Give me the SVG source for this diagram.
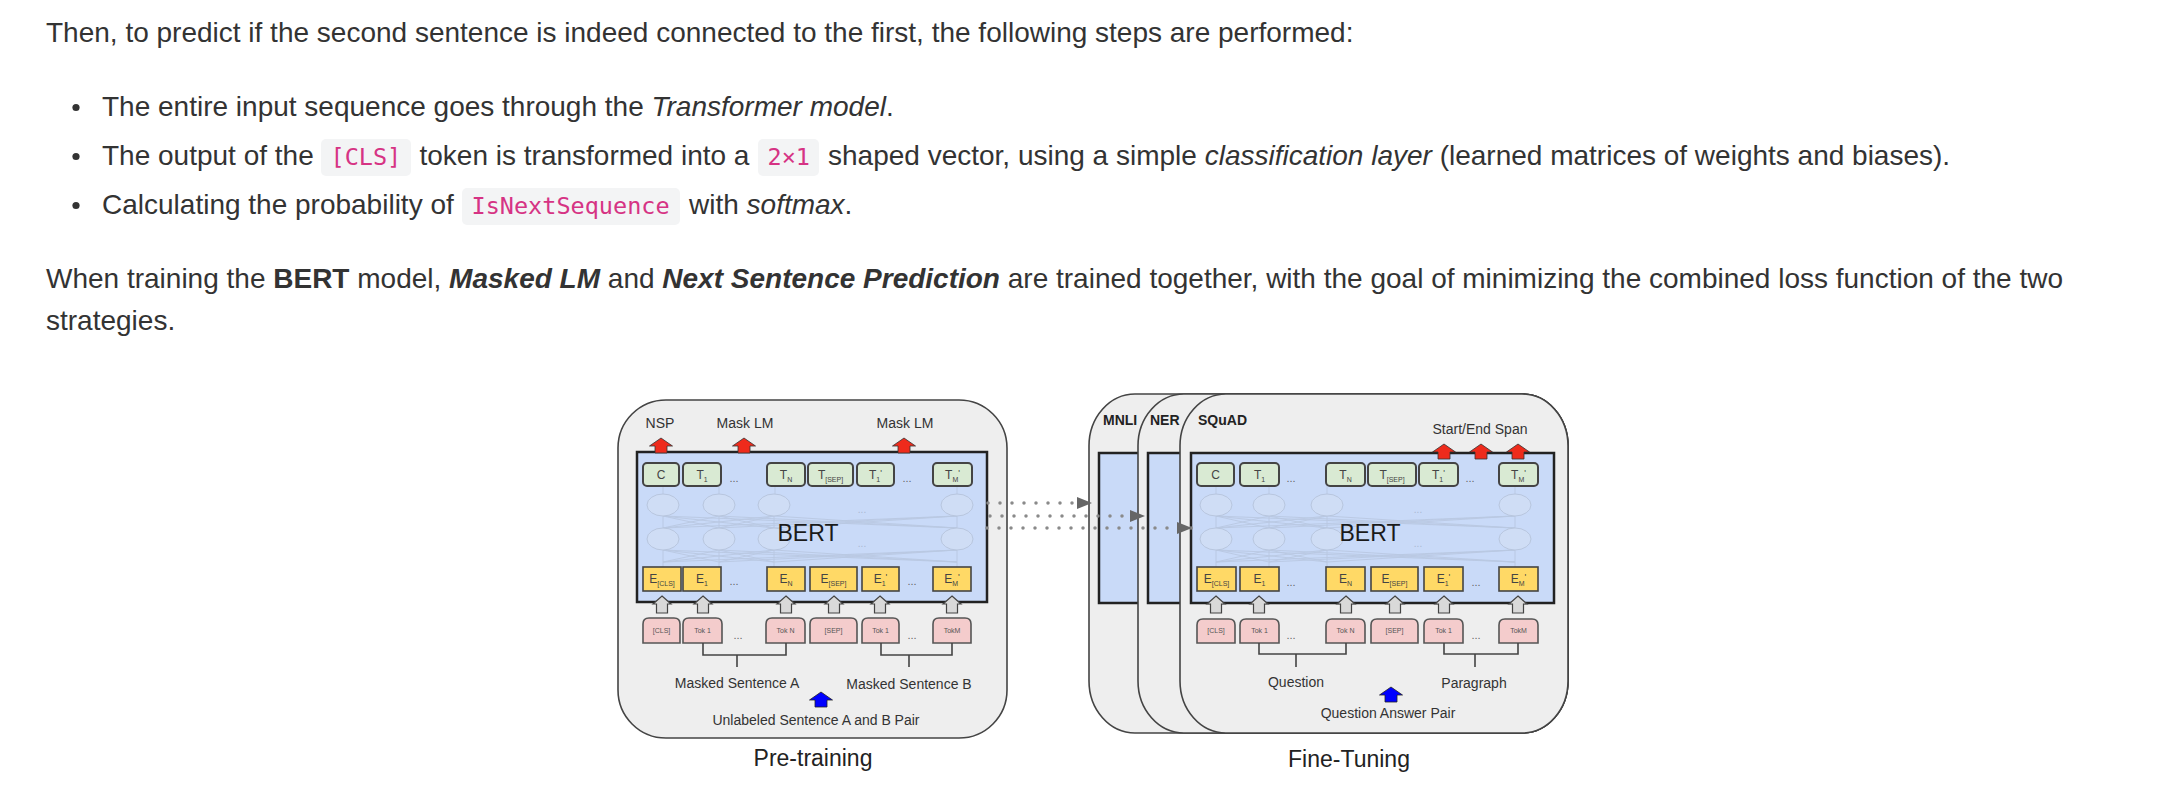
<svg xmlns="http://www.w3.org/2000/svg" width="2174" height="810" viewBox="0 0 2174 810">
<defs>
<style>
.p{font-family:"Liberation Sans",Arial,Helvetica,sans-serif;font-size:28px;fill:#333}
.i{font-style:italic}
.b{font-weight:bold}
.code{font-family:"DejaVu Sans Mono","Liberation Mono",monospace;font-size:23.5px;fill:#d63384}
.cbg{fill:#f3f4f5}
.card{fill:#eeeeee;stroke:#444;stroke-width:1.6}
.bert{fill:#c9daf8;stroke:#222;stroke-width:2.5}
.tbox{fill:#d9ead3;stroke:#444;stroke-width:2}
.ebox{fill:#ffd966;stroke:#444;stroke-width:1.6}
.tok{fill:#f4cccc;stroke:#555;stroke-width:1.6}
.net{stroke:#b6c4dd;stroke-width:0.9;fill:none;opacity:0.8}
.ell{fill:#cfddf5;stroke:#b8c6de;stroke-width:1}
.f{font-family:"Liberation Sans",Arial,Helvetica,sans-serif}
.lbl{font-size:14px;fill:#333;text-anchor:middle}
.bt{font-size:12px;fill:#444;text-anchor:middle}
.sub{font-size:7px}
.pr{font-size:9px}
.tk{font-size:7px;fill:#555;text-anchor:middle}
.dots{font-size:11px;fill:#666;text-anchor:middle}
.fdots{font-size:10px;fill:#a9b8d2;text-anchor:middle}
.title{font-size:23px;fill:#222;text-anchor:middle}
.task{font-size:14px;font-weight:bold;fill:#222}
.red{fill:#ee2b1c;stroke:#333;stroke-width:0.8}
.gray{fill:#d9d9d9;stroke:#444;stroke-width:1.2}
.blue{fill:#0000ff;stroke:#222;stroke-width:0.8}
.brk{fill:none;stroke:#444;stroke-width:1.6}
.dot{stroke:#8a8a8a;stroke-width:3.5;stroke-linecap:round;stroke-dasharray:0 12;fill:none}
</style>
<path id="upR" d="M0,0 L11.5,8 L6,8 L6,15 L-6,15 L-6,8 L-11.5,8 Z"/>
<path id="upG" d="M0,0 L9,8 L5.5,8 L5.5,17 L-5.5,17 L-5.5,8 L-9,8 Z"/>
<marker id="ah" markerWidth="15" markerHeight="12" refX="15" refY="6" orient="auto" markerUnits="userSpaceOnUse">
<path d="M0,0 L15,6 L0,12 Z" fill="#666"/>
</marker>
</defs>
<rect width="2174" height="810" fill="#ffffff"/>

<g id="text-block">
<text class="p" x="46" y="42">Then, to predict if the second sentence is indeed connected to the first, the following steps are performed:</text>
<circle cx="76" cy="107.5" r="3.6" fill="#333"/>
<circle cx="76" cy="156.5" r="3.6" fill="#333"/>
<circle cx="76" cy="205.5" r="3.6" fill="#333"/>
<text class="p" y="116"><tspan x="102">The entire input sequence goes through the </tspan><tspan class="i">Transformer model</tspan>.</text>
<rect class="cbg" x="321" y="139" width="90" height="37" rx="5"/>
<rect class="cbg" x="758" y="139" width="61" height="37" rx="5"/>
<text class="code" x="330.5" y="165">[CLS]</text>
<text class="code" x="767.5" y="165">2×1</text>
<text class="p" y="165"><tspan x="102">The output of the</tspan><tspan x="419.5">token is transformed into a</tspan><tspan x="828">shaped vector, using a simple </tspan><tspan class="i">classification layer</tspan> (learned matrices of weights and biases).</text>
<rect class="cbg" x="462" y="188" width="218" height="37" rx="5"/>
<text class="code" x="471.5" y="214">IsNextSequence</text>
<text class="p" y="214"><tspan x="102">Calculating the probability of</tspan><tspan x="689">with </tspan><tspan class="i">softmax</tspan>.</text>
<text class="p" x="46" y="288">When training the <tspan class="b">BERT</tspan> model, <tspan class="b i">Masked LM</tspan> and <tspan class="b i">Next Sentence Prediction</tspan> are trained together, with the goal of minimizing the combined loss function of the two</text>
<text class="p" x="46" y="330">strategies.</text>
</g>

<g id="pretraining">
<rect class="card" x="618" y="400" width="389" height="338" rx="48"/>
<rect class="bert" x="637" y="452" width="350" height="150"/>
<g class="net">
<path d="M663,486V494 M719,486V494 M775,486V494 M957,486V494 M663,516V528 M719,516V528 M774,516V528 M957,516V528 M663,550V567 M719,550V567 M774,550V567 M957,550V567"/>
<path d="M663,516L719,528 M663,516L774,528 M663,516L957,528 M719,516L663,528 M719,516L774,528 M719,516L957,528 M774,516L663,528 M774,516L719,528 M774,516L957,528 M957,516L663,528 M957,516L719,528 M957,516L774,528"/>
<path d="M663,550L719,562 M663,550L774,562 M663,550L957,562 M719,550L663,562 M719,550L774,562 M719,550L957,562 M774,550L663,562 M774,550L719,562 M774,550L957,562 M957,550L663,562 M957,550L719,562 M957,550L774,562"/>
</g>
<ellipse class="ell" cx="663" cy="505" rx="16" ry="11"/>
<ellipse class="ell" cx="719" cy="505" rx="16" ry="11"/>
<ellipse class="ell" cx="774" cy="505" rx="16" ry="11"/>
<ellipse class="ell" cx="957" cy="505" rx="16" ry="11"/>
<ellipse class="ell" cx="663" cy="539" rx="16" ry="11"/>
<ellipse class="ell" cx="719" cy="539" rx="16" ry="11"/>
<ellipse class="ell" cx="774" cy="539" rx="16" ry="11"/>
<ellipse class="ell" cx="957" cy="539" rx="16" ry="11"/>
<text class="f fdots" x="862" y="513">...</text>
<text class="f fdots" x="862" y="547">...</text>
<text class="f" x="808" y="541" font-size="23" fill="#1a1a1a" text-anchor="middle">BERT</text>
<text class="f lbl" x="660" y="428">NSP</text>
<text class="f lbl" x="745" y="428">Mask LM</text>
<text class="f lbl" x="905" y="428">Mask LM</text>
<g id="pt-T">
<rect class="tbox" x="643" y="463" width="36" height="23" rx="4"/>
<rect class="tbox" x="683" y="463" width="38" height="23" rx="4"/>
<rect class="tbox" x="767" y="463" width="38" height="23" rx="4"/>
<rect class="tbox" x="808" y="463" width="45" height="23" rx="4"/>
<rect class="tbox" x="857" y="463" width="37" height="23" rx="4"/>
<rect class="tbox" x="933" y="463" width="39" height="23" rx="4"/>
<text class="f bt" x="661" y="479">C</text>
<text class="f bt" x="702" y="479">T<tspan class="sub" dy="3">1</tspan></text>
<text class="f bt" x="786" y="479">T<tspan class="sub" dy="3">N</tspan></text>
<text class="f bt" x="830.5" y="479">T<tspan class="sub" dy="3">[SEP]</tspan></text>
<text class="f bt" x="875.5" y="479">T<tspan class="sub" dy="3">1</tspan><tspan class="pr" dy="-6">'</tspan></text>
<text class="f bt" x="952.5" y="479">T<tspan class="sub" dy="3">M</tspan><tspan class="pr" dy="-6">'</tspan></text>
<text class="f dots" x="734" y="482">...</text>
<text class="f dots" x="907" y="482">...</text>
</g>
<g id="pt-E">
<rect class="ebox" x="643" y="567" width="38" height="24"/>
<rect class="ebox" x="683" y="567" width="38" height="24"/>
<rect class="ebox" x="767" y="567" width="38" height="24"/>
<rect class="ebox" x="810" y="567" width="47" height="24"/>
<rect class="ebox" x="862" y="567" width="37" height="24"/>
<rect class="ebox" x="933" y="567" width="38" height="24"/>
<text class="f bt" x="662" y="583">E<tspan class="sub" dy="3">[CLS]</tspan></text>
<text class="f bt" x="702" y="583">E<tspan class="sub" dy="3">1</tspan></text>
<text class="f bt" x="786" y="583">E<tspan class="sub" dy="3">N</tspan></text>
<text class="f bt" x="833.5" y="583">E<tspan class="sub" dy="3">[SEP]</tspan></text>
<text class="f bt" x="880.5" y="583">E<tspan class="sub" dy="3">1</tspan><tspan class="pr" dy="-6">'</tspan></text>
<text class="f bt" x="952" y="583">E<tspan class="sub" dy="3">M</tspan><tspan class="pr" dy="-6">'</tspan></text>
<text class="f dots" x="734" y="585">...</text>
<text class="f dots" x="912" y="585">...</text>
</g>
<g id="pt-Tok">
<path class="tok" d="M643,643 V624 Q643,618 649,618 H674 Q680,618 680,624 V643 Z"/>
<path class="tok" d="M683,643 V624 Q683,618 689,618 H716 Q722,618 722,624 V643 Z"/>
<path class="tok" d="M766,643 V624 Q766,618 772,618 H799 Q805,618 805,624 V643 Z"/>
<path class="tok" d="M810,643 V624 Q810,618 816,618 H851 Q857,618 857,624 V643 Z"/>
<path class="tok" d="M862,643 V624 Q862,618 868,618 H893 Q899,618 899,624 V643 Z"/>
<path class="tok" d="M933,643 V624 Q933,618 939,618 H965 Q971,618 971,624 V643 Z"/>
<text class="f tk" x="661.5" y="633">[CLS]</text>
<text class="f tk" x="702.5" y="633">Tok 1</text>
<text class="f tk" x="785.5" y="633">Tok N</text>
<text class="f tk" x="833.5" y="633">[SEP]</text>
<text class="f tk" x="880.5" y="633">Tok 1</text>
<text class="f tk" x="952" y="633">TokM</text>
<text class="f dots" x="738" y="639">...</text>
<text class="f dots" x="912" y="639">...</text>
</g>
<text class="f lbl" x="737" y="688">Masked Sentence A</text>
<text class="f lbl" x="909" y="689">Masked Sentence B</text>
<text class="f lbl" x="816" y="725">Unlabeled Sentence A and B Pair</text>
<text class="f title" x="813" y="766">Pre-training</text>
</g>

<g id="finetune-mnli">
<rect class="card" x="1089" y="394" width="479" height="339" rx="46" ry="52"/>
<rect class="bert" x="1099" y="453" width="455" height="150"/>
</g>
<g id="finetune-ner">
<rect class="card" x="1138" y="394" width="430" height="339" rx="46" ry="52"/>
<rect class="bert" x="1148" y="453" width="406" height="150"/>
</g>
<g id="finetune-squad">
<rect class="card" x="1180" y="394" width="388" height="339" rx="46" ry="52"/>
<rect class="bert" x="1191" y="453" width="363" height="150"/>
<g class="net">
<path d="M1216,486V494 M1269,486V494 M1327,486V494 M1515,486V494 M1216,516V528 M1269,516V528 M1327,516V528 M1515,516V528 M1216,550V567 M1269,550V567 M1327,550V567 M1515,550V567"/>
<path d="M1216,516L1269,528 M1216,516L1327,528 M1216,516L1515,528 M1269,516L1216,528 M1269,516L1327,528 M1269,516L1515,528 M1327,516L1216,528 M1327,516L1269,528 M1327,516L1515,528 M1515,516L1216,528 M1515,516L1269,528 M1515,516L1327,528"/>
<path d="M1216,550L1269,562 M1216,550L1327,562 M1216,550L1515,562 M1269,550L1216,562 M1269,550L1327,562 M1269,550L1515,562 M1327,550L1216,562 M1327,550L1269,562 M1327,550L1515,562 M1515,550L1216,562 M1515,550L1269,562 M1515,550L1327,562"/>
</g>
<ellipse class="ell" cx="1216" cy="505" rx="16" ry="11"/>
<ellipse class="ell" cx="1269" cy="505" rx="16" ry="11"/>
<ellipse class="ell" cx="1327" cy="505" rx="16" ry="11"/>
<ellipse class="ell" cx="1515" cy="505" rx="16" ry="11"/>
<ellipse class="ell" cx="1216" cy="539" rx="16" ry="11"/>
<ellipse class="ell" cx="1269" cy="539" rx="16" ry="11"/>
<ellipse class="ell" cx="1327" cy="539" rx="16" ry="11"/>
<ellipse class="ell" cx="1515" cy="539" rx="16" ry="11"/>
<text class="f fdots" x="1418" y="513">...</text>
<text class="f fdots" x="1418" y="547">...</text>
<text class="f" x="1370" y="541" font-size="23" fill="#1a1a1a" text-anchor="middle">BERT</text>
<text class="f lbl" x="1480" y="434">Start/End Span</text>
<g id="ft-T">
<rect class="tbox" x="1197" y="463" width="37" height="23" rx="4"/>
<rect class="tbox" x="1240" y="463" width="39" height="23" rx="4"/>
<rect class="tbox" x="1326" y="463" width="39" height="23" rx="4"/>
<rect class="tbox" x="1368" y="463" width="48" height="23" rx="4"/>
<rect class="tbox" x="1419" y="463" width="39" height="23" rx="4"/>
<rect class="tbox" x="1499" y="463" width="39" height="23" rx="4"/>
<text class="f bt" x="1215.5" y="479">C</text>
<text class="f bt" x="1259.5" y="479">T<tspan class="sub" dy="3">1</tspan></text>
<text class="f bt" x="1345.5" y="479">T<tspan class="sub" dy="3">N</tspan></text>
<text class="f bt" x="1392" y="479">T<tspan class="sub" dy="3">[SEP]</tspan></text>
<text class="f bt" x="1438.5" y="479">T<tspan class="sub" dy="3">1</tspan><tspan class="pr" dy="-6">'</tspan></text>
<text class="f bt" x="1518.5" y="479">T<tspan class="sub" dy="3">M</tspan><tspan class="pr" dy="-6">'</tspan></text>
<text class="f dots" x="1291" y="482">...</text>
<text class="f dots" x="1470" y="482">...</text>
</g>
<g id="ft-E">
<rect class="ebox" x="1197" y="567" width="39" height="24"/>
<rect class="ebox" x="1240" y="567" width="39" height="24"/>
<rect class="ebox" x="1326" y="567" width="39" height="24"/>
<rect class="ebox" x="1371" y="567" width="47" height="24"/>
<rect class="ebox" x="1424" y="567" width="39" height="24"/>
<rect class="ebox" x="1499" y="567" width="39" height="24"/>
<text class="f bt" x="1216.5" y="583">E<tspan class="sub" dy="3">[CLS]</tspan></text>
<text class="f bt" x="1259.5" y="583">E<tspan class="sub" dy="3">1</tspan></text>
<text class="f bt" x="1345.5" y="583">E<tspan class="sub" dy="3">N</tspan></text>
<text class="f bt" x="1394.5" y="583">E<tspan class="sub" dy="3">[SEP]</tspan></text>
<text class="f bt" x="1443.5" y="583">E<tspan class="sub" dy="3">1</tspan><tspan class="pr" dy="-6">'</tspan></text>
<text class="f bt" x="1518.5" y="583">E<tspan class="sub" dy="3">M</tspan><tspan class="pr" dy="-6">'</tspan></text>
<text class="f dots" x="1291" y="586">...</text>
<text class="f dots" x="1476" y="586">...</text>
</g>
<g id="ft-Tok">
<path class="tok" d="M1197,643 V625 Q1197,619 1203,619 H1229 Q1235,619 1235,625 V643 Z"/>
<path class="tok" d="M1240,643 V625 Q1240,619 1246,619 H1273 Q1279,619 1279,625 V643 Z"/>
<path class="tok" d="M1326,643 V625 Q1326,619 1332,619 H1359 Q1365,619 1365,625 V643 Z"/>
<path class="tok" d="M1371,643 V625 Q1371,619 1377,619 H1412 Q1418,619 1418,625 V643 Z"/>
<path class="tok" d="M1424,643 V625 Q1424,619 1430,619 H1457 Q1463,619 1463,625 V643 Z"/>
<path class="tok" d="M1499,643 V625 Q1499,619 1505,619 H1532 Q1538,619 1538,625 V643 Z"/>
<text class="f tk" x="1216" y="633">[CLS]</text>
<text class="f tk" x="1259.5" y="633">Tok 1</text>
<text class="f tk" x="1345.5" y="633">Tok N</text>
<text class="f tk" x="1394.5" y="633">[SEP]</text>
<text class="f tk" x="1443.5" y="633">Tok 1</text>
<text class="f tk" x="1518.5" y="633">TokM</text>
<text class="f dots" x="1291" y="639">...</text>
<text class="f dots" x="1476" y="639">...</text>
</g>
<text class="f lbl" x="1296" y="687">Question</text>
<text class="f lbl" x="1474" y="688">Paragraph</text>
<text class="f lbl" x="1388" y="718">Question Answer Pair</text>
</g>
<g id="task-labels">
<text class="f task" x="1103" y="425">MNLI</text>
<text class="f task" x="1150" y="425">NER</text>
<text class="f task" x="1198" y="425">SQuAD</text>
<text class="f title" x="1349" y="767">Fine-Tuning</text>
</g>

<g id="connectors">
<line class="dot" x1="988" y1="503" x2="1092" y2="503" marker-end="url(#ah)"/>
<line class="dot" x1="990" y1="516" x2="1145" y2="516" marker-end="url(#ah)"/>
<line class="dot" x1="987" y1="528" x2="1192" y2="528" marker-end="url(#ah)"/>
<path class="brk" d="M703,643 V655 H786 V643 M737,655 V667 M881,643 V655 H952 V643 M909,655 V667"/>
<path class="brk" d="M1259,643 V654 H1346 V643 M1296,654 V667 M1444,643 V654 H1518 V643 M1475,654 V667"/>
<use href="#upR" class="red" x="661" y="438"/>
<use href="#upR" class="red" x="744" y="438"/>
<use href="#upR" class="red" x="904" y="438"/>
<use href="#upR" class="red" x="1444" y="444"/>
<use href="#upR" class="red" x="1481" y="444"/>
<use href="#upR" class="red" x="1518" y="444"/>
<use href="#upG" class="gray" x="662" y="596"/>
<use href="#upG" class="gray" x="703" y="596"/>
<use href="#upG" class="gray" x="786" y="596"/>
<use href="#upG" class="gray" x="834" y="596"/>
<use href="#upG" class="gray" x="880" y="596"/>
<use href="#upG" class="gray" x="952" y="596"/>
<use href="#upG" class="gray" x="1216" y="596"/>
<use href="#upG" class="gray" x="1259" y="596"/>
<use href="#upG" class="gray" x="1346" y="596"/>
<use href="#upG" class="gray" x="1395" y="596"/>
<use href="#upG" class="gray" x="1444" y="596"/>
<use href="#upG" class="gray" x="1518" y="596"/>
<use href="#upR" class="blue" x="821" y="692"/>
<use href="#upR" class="blue" x="1391" y="687"/>
</g>
</svg>
